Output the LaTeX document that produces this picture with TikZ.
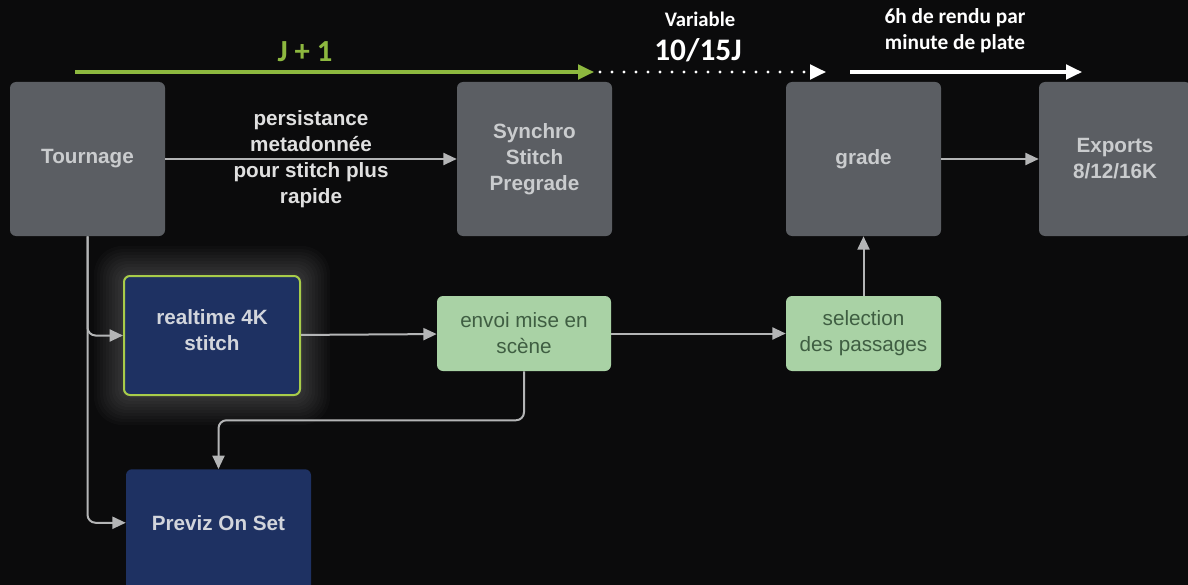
\documentclass[tikz,border=0pt]{standalone}
\usepackage{fontspec}
\setmainfont{Liberation Sans}
\newfontfamily\carlito{Carlito}
\usetikzlibrary{arrows.meta, positioning, calc}

\definecolor{bgdark}{HTML}{0B0B0C}
\definecolor{boxgrey}{HTML}{5B5E63}
\definecolor{boxgreytxt}{HTML}{CACCCE}
\definecolor{navy}{HTML}{1E3162}
\definecolor{navyedge}{HTML}{A8CC4A}
\definecolor{navytxt}{HTML}{D2D5DC}
\definecolor{mint}{HTML}{A9D2A5}
\definecolor{minttxt}{HTML}{3F5E42}
\definecolor{linkgrey}{HTML}{B4B5B6}
\definecolor{jgreen}{HTML}{8DB83F}

\begin{document}
\begin{tikzpicture}[x=0.75pt, y=-0.75pt, >={Triangle[length=10pt, width=9pt]}]

\def\pxu{0.75pt}
\tikzset{
  box/.style={rounded corners=4.5pt, align=center, inner sep=0pt,
    font=\fontsize{15.5}{19.5}\selectfont\bfseries},
  greybox/.style={box, fill=boxgrey, text=boxgreytxt,
    minimum width=155*\pxu, minimum height=154*\pxu},
  navybox/.style={box, fill=navy, text=navytxt},
  mintbox/.style={box, fill=mint, text=minttxt, font=\fontsize{15.5}{19.5}\selectfont,
    minimum width=174*\pxu, minimum height=75*\pxu},
  link/.style={->, draw=linkgrey, line width=1.5pt},
  tline/.style={line width=2.3pt, -{Triangle[length=12pt, width=11pt]}},
  tlabel/.style={text=white, align=center, font=\carlito\bfseries\fontsize{16}{19.5}\selectfont},
}

% -------------------------------------------------------
% 1. Background
% -------------------------------------------------------
\useasboundingbox (0,0) rectangle (1188,585);
\fill[bgdark] (0,0) rectangle (1188,585);

% -------------------------------------------------------
% 2. Timeline on top
% -------------------------------------------------------
\coordinate (j0) at (75,72);
\coordinate (j1) at (594,72);
\coordinate (v0) at (600,72);
\coordinate (v1) at (826,72);
\coordinate (r0) at (850,72);
\coordinate (r1) at (1082,72);

\draw[tline, jgreen] (j0) -- (j1);
\draw[tline, white, dash pattern=on 0pt off 9pt, line cap=round] (v0) -- (v1);
\draw[tline, white] (r0) -- (r1);

\node[text=jgreen, font=\carlito\bfseries\fontsize{23}{24}\selectfont] (jlab) at (305,52) {J + 1};
\node[tlabel, font=\carlito\bfseries\fontsize{15.5}{19.5}\selectfont] (varlab) at (700,19) {Variable};
\node[tlabel, font=\carlito\bfseries\fontsize{23.5}{24}\selectfont] (durlab) at (698,50) {10/15J};
\node[tlabel] (renlab) at (955,31) {6h de rendu par\\minute de plate};

% -------------------------------------------------------
% 3. Glow behind the realtime box
% -------------------------------------------------------
\foreach \g in {30,27,...,3} {
  \fill[white, opacity=0.02, rounded corners=6pt+0.5*\g pt]
    (124-\g,276-\g) rectangle (300+\g,395+\g);
}

% -------------------------------------------------------
% 4. Boxes
% -------------------------------------------------------
\node[greybox] (tour) at (87.5,159) {Tournage};
\node[greybox] (sync) at (534.5,159) {Synchro\\Stitch\\Pregrade};
\node[greybox] (grade) at (863.5,159) {grade};
\node[greybox, minimum width=152*\pxu] (expo) at (1115,159) {Exports\\8/12/16K};

\node[navybox, draw=navyedge, line width=1.5pt,
  minimum width=176*\pxu, minimum height=119*\pxu] (rt4k) at (212,335.5) {};
\node[navybox] (rt4ktxt) at (212,330) {realtime 4K\\stitch};
\node[navybox, minimum width=185*\pxu, anchor=north,
  text height=45.75pt, text depth=52.5pt] (previz) at (218.5,469) {Previz On Set};

\node[mintbox] (envoi) at (524,333.5) {envoi mise en\\scène};
\node[mintbox, minimum width=155*\pxu] (sel) at (863.5,333.5) {selection\\des passages};

% -------------------------------------------------------
% 5. Connectors
% -------------------------------------------------------
\draw[link] (tour) -- (sync)
  node[midway, text=white!88!black, align=center,
    font=\fontsize{15.5}{19.5}\selectfont\bfseries] (meta)
  {persistance\\metadonnée\\pour stitch plus\\rapide};
\draw[link] (grade) -- (expo);
\draw[link] (sel) -- (grade);
\draw[link] (rt4k) -- (envoi);
\draw[link] (envoi) -- (sel);
\draw[link, rounded corners=6pt] (envoi.south) -- ++(0,49) -| (previz.north);
\draw[link, rounded corners=6pt] (tour.south) |- (rt4k.west);
\draw[link, rounded corners=6pt] (tour.south) |- ([yshift=9pt]previz.west);

\end{tikzpicture}
\end{document}
